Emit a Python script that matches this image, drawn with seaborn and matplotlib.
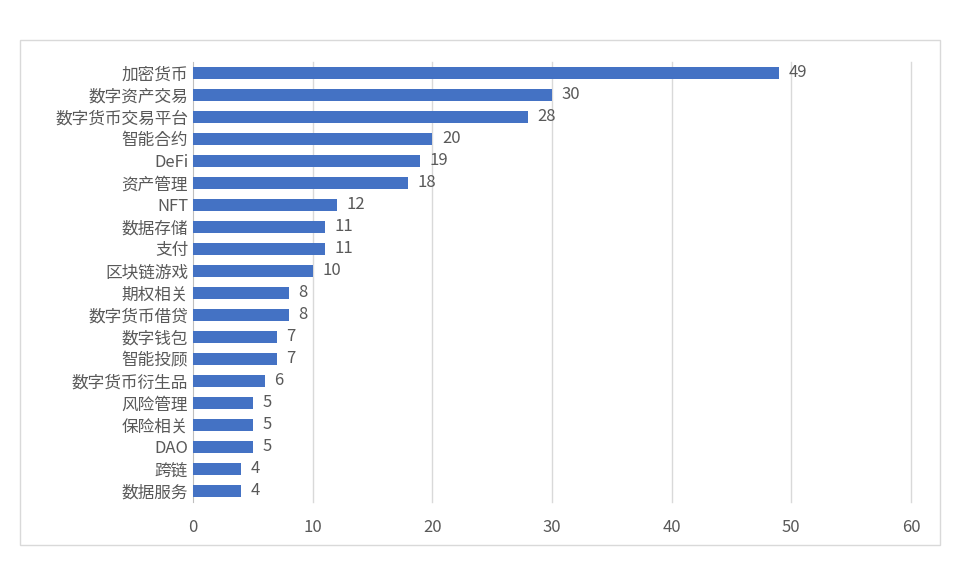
import matplotlib
matplotlib.use("Agg")
import matplotlib.pyplot as plt
from matplotlib import font_manager as fm
import seaborn as sns
import pandas as pd
from matplotlib.patches import Rectangle

categories = ["加密货币", "数字资产交易", "数字货币交易平台", "智能合约", "DeFi", "资产管理", "NFT",
              "数据存储", "支付", "区块链游戏", "期权相关", "数字货币借贷", "数字钱包", "智能投顾",
              "数字货币衍生品", "风险管理", "保险相关", "DAO", "跨链", "数据服务"]
values = [49, 30, 28, 20, 19, 18, 12, 11, 11, 10, 8, 8, 7, 7, 6, 5, 5, 5, 4, 4]
x_ticks = [0, 10, 20, 30, 40, 50, 60]

names = sorted({f.name for f in fm.fontManager.ttflist if "CJK" in f.name})
cjk = "Noto Sans CJK SC" if "Noto Sans CJK SC" in names else (names[0] if names else "DejaVu Sans")
plt.rcParams["font.family"] = "sans-serif"
plt.rcParams["font.sans-serif"] = [cjk, "DejaVu Sans"]
df = pd.DataFrame({"cat": categories, "val": values})

fig = plt.figure(figsize=(9.6, 5.67), dpi=100)
fig.patches.append(Rectangle((20/960, 1-545/567), 920/960, 505/567, transform=fig.transFigure,
                             fill=False, edgecolor="#d9d9d9", linewidth=1))
ax = fig.add_axes([193/960, 1-502/567, 718/960, 440/567])
sns.barplot(data=df, y="cat", x="val", orient="h", color="#4472C4", saturation=1,
            width=0.55, ax=ax, zorder=3)
ax.set_xlim(0, 60)
ax.set_xticks(x_ticks)
for t in x_ticks[1:]:
    ax.axvline(t, color="#d9d9d9", linewidth=1, zorder=0, clip_on=False)
for s in ["top", "right", "bottom"]:
    ax.spines[s].set_visible(False)
ax.spines["left"].set_color("#bfbfbf")
ax.tick_params(length=0, colors="#595959", labelsize=12)
ax.tick_params(axis="x", pad=12)
ax.set_xlabel("")
ax.set_ylabel("")
for i, v in enumerate(values):
    ax.text(v + 0.8, i, str(v), va="center", ha="left", color="#595959", fontsize=12)
fig.savefig("out.png", dpi=100)
